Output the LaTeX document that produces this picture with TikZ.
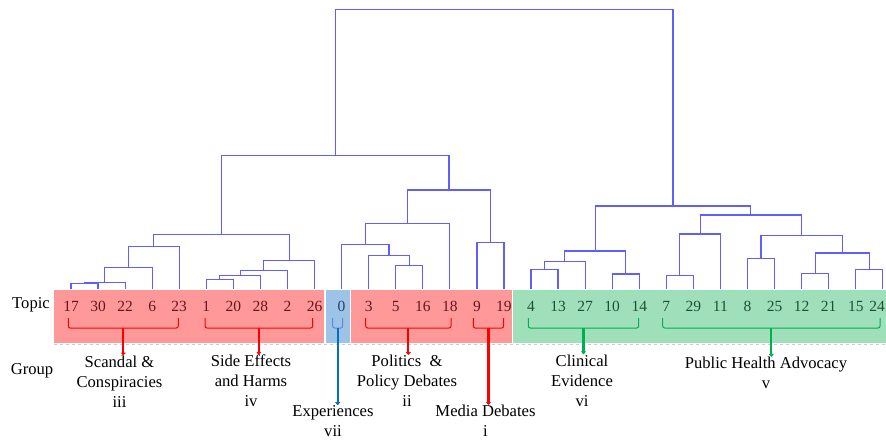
\documentclass[tikz,border=0pt]{standalone}
\usepackage{fontspec}
\setmainfont{Liberation Serif}
\usetikzlibrary{calc,arrows.meta}
\definecolor{dendroblue}{RGB}{95,95,255}
\definecolor{boxred}{RGB}{255,153,153}
\definecolor{boxblue}{RGB}{157,195,230}
\definecolor{boxgreen}{RGB}{159,224,187}
\definecolor{txtred}{RGB}{100,22,30}
\definecolor{txtgreen}{RGB}{30,80,50}
\definecolor{txtblue}{RGB}{35,65,105}
\definecolor{grpred}{RGB}{255,0,0}
\definecolor{grpblue}{RGB}{0,112,192}
\definecolor{grpbrace}{RGB}{90,140,215}
\definecolor{grpgreen}{RGB}{0,176,80}
\begin{document}
\begin{tikzpicture}[x=1pt,y=-1pt,
    dendro/.style={draw=dendroblue,line width=1.2pt},
    topicnum/.style={font=\fontsize{15.5}{18}\selectfont,inner sep=0pt},
    grplabel/.style={font=\fontsize{16.6}{20}\selectfont,align=center,inner sep=0pt},
    brace/.style={line width=1pt,rounded corners=2pt},
    grparrow/.style={line width=2.2pt,-{Triangle[length=3pt,width=5pt]}}]
    % Fundo e margens
    \useasboundingbox[fill=white] (0,0) rectangle (886,441);
    % Caixas dos grupos
    \fill[boxred] (54.3,290) rectangle (324.3,342.7);
    \fill[boxblue] (326,290) rectangle (350,342.7);
    \fill[boxred] (351,290) rectangle (512,342.7);
    \fill[boxgreen] (512.7,290) rectangle (886,342.7);
    \draw[black!20,dashed,line width=1pt] (54.3,344) -- (886,344);
    % Folhas do dendrograma
    \foreach \t [count=\i from 0] in {17,30,22,6,23,1,20,28,2,26,0,3,5,16,18,9,19,4,13,27,10,14,7,29,11,8,25,12,21,15,24}
        \coordinate (t\t) at ({71+27.06*\i},289);
    % Fusoes: nome/filho esquerdo/filho direito/altura
    \foreach \m/\a/\b/\h in {m1/t17/t30/283.3, m2/m1/t22/282.3, m3/m2/t6/267.3, m4/m3/t23/246.3,
        m5/t1/t20/279.3, m6/m5/t28/275.3, m7/m6/t2/270.3, m8/m7/t26/260.3, m9/m4/m8/234.3,
        m10/t5/t16/265.3, m11/t3/m10/255.3, m12/t0/m11/244.3, m13/m12/t18/223.3,
        m14/t9/t19/242.3, m15/m13/m14/190, m16/m9/m15/155.7,
        m17/t4/t13/269.3, m18/m17/t27/261.3, m19/t10/t14/274, m20/m18/m19/251,
        m21/t7/t29/275.3, m22/m21/t11/234, m23/t8/t25/258.3, m24/t12/t21/273.3,
        m25/t15/t24/269.3, m26/m24/m25/253, m27/m23/m26/235.3, m28/m22/m27/215,
        m29/m20/m28/206, m30/m16/m29/9.3}{
        \coordinate (c\m) at ($(\a)!0.5!(\b)$);
        \coordinate (\m) at (c\m |- 0,\h);
        \draw[dendro] (\a) |- (\m) -| (\b);
    }
    % Numeros dos topicos
    \foreach \t in {17,30,22,6,23,1,20,28,2,26,3,5,16,18,9,19}
        \node[topicnum,text=txtred] (n\t) at (t\t |- 0,306) {\t};
    \node[topicnum,text=txtblue] (n0) at (t0 |- 0,306) {0};
    \foreach \t in {4,13,27,10,14,7,29,11,8,25,12,21,15}
        \node[topicnum,text=txtgreen] (n\t) at (t\t |- 0,306) {\t};
    \node[topicnum,text=txtgreen,anchor=east] (n24) at (885,306) {24};
    \node[grplabel] (topic) at (31,305) {Topic};
    \node[grplabel] (group) at (32,371) {Group};
    % Chaves sob cada grupo
    \foreach \g/\xl/\xr/\c in {scandal/68.3/178.3/grpred, side/205/312.7/grpred, exp/332.7/342.7/grpbrace,
        politics/365.7/451/grpred, media/473.3/503.7/grpred, clinical/528.3/638.7/grpgreen,
        health/662.7/880/grpgreen}{
        \draw[brace,\c] (\xl,318) -- (\xl,328) -- (\xr,328) -- (\xr,318);
        \coordinate (b\g) at ({(\xl+\xr)/2},328);
    }
    % Nomes dos grupos
    \node[grplabel] (lscandal) at (119.5,381.5) {Scandal \&\\Conspiracies\\iii};
    \node[grplabel] (lside) at (251,381) {Side Effects\\and Harms\\iv};
    \node[grplabel] (lexp) at (333,421) {Experiences\\vii};
    \node[grplabel] (lpolitics) at (407,381) {Politics\ \ \&\\Policy Debates\\ii};
    \node[grplabel] (lmedia) at (485.5,421) {Media Debates\\i};
    \node[grplabel] (lclinical) at (582,380.5) {Clinical\\Evidence\\vi};
    \node[grplabel] (lhealth) at (766,373) {Public Health Advocacy\\v};
    % Setas das chaves para os nomes
    \foreach \g/\c in {scandal/grpred, side/grpred, exp/grpblue, politics/grpred,
        media/grpred, clinical/grpgreen, health/grpgreen}
        \draw[grparrow,\c] (b\g) -- (b\g |- l\g.north);
\end{tikzpicture}
\end{document}
